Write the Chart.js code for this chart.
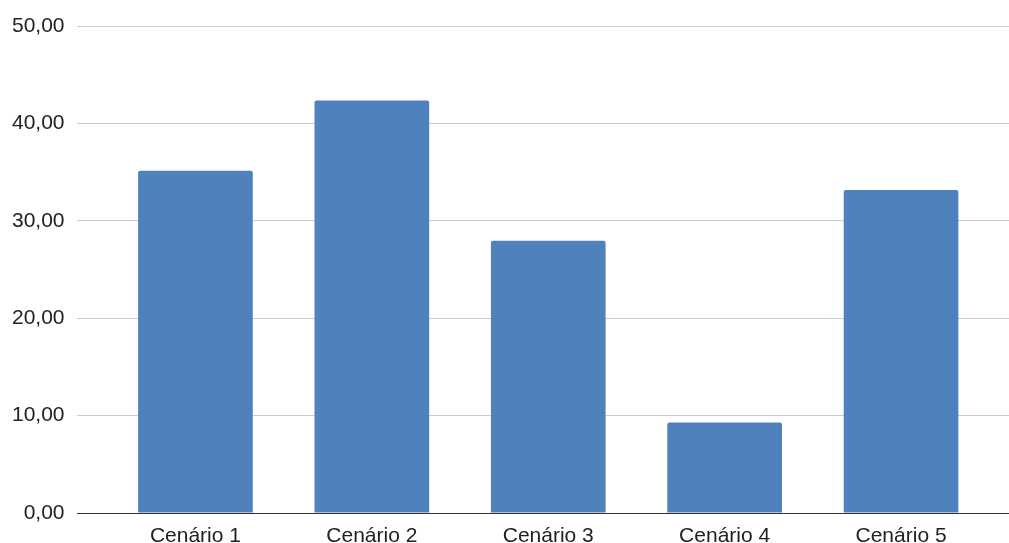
<!DOCTYPE html>
<html>
<head>
<meta charset="utf-8">
<script src="https://cdn.jsdelivr.net/npm/chart.js@4/dist/chart.umd.min.js"></script>
<style>
  html, body { margin: 0; padding: 0; background: #fff; }
  #wrap { width: 1009px; height: 543px; }
</style>
</head>
<body>
<div id="wrap"><canvas id="c"></canvas></div>
<script>
// Cenários e valores
const categories = ['Cenário 1', 'Cenário 2', 'Cenário 3', 'Cenário 4', 'Cenário 5'];
const values = [35.15, 42.35, 27.95, 9.3, 33.17];
const yTicks = [0, 10, 20, 30, 40, 50];
const yTickLabels = ['0,00', '10,00', '20,00', '30,00', '40,00', '50,00'];

const FONT = { family: '"Liberation Sans", Arial, sans-serif', size: 21, lineHeight: 1 };

new Chart(document.getElementById('c'), {
  type: 'bar',
  data: {
    datasets: [{
      data: values.map((v, i) => ({ x: i, y: v })),
      backgroundColor: '#4f81bd',
      borderWidth: 0,
      borderRadius: { topLeft: 2, topRight: 2, bottomLeft: 0, bottomRight: 0 },
      borderSkipped: 'bottom',
      barPercentage: 0.65,
      categoryPercentage: 1
    }]
  },
  options: {
    responsive: true,
    maintainAspectRatio: false,
    animation: false,
    layout: { padding: { left: 0, right: 0, top: 26, bottom: -17 } },
    plugins: { legend: { display: false }, tooltip: { enabled: false } },
    scales: {
      x: {
        type: 'linear',
        offset: false,
        min: -0.674,
        max: 4.612,
        afterBuildTicks: (axis) => { axis.ticks = categories.map((_, i) => ({ value: i })); },
        ticks: {
          autoSkip: false,
          maxRotation: 0,
          padding: 13,
          color: '#222',
          font: FONT,
          callback: (v) => categories[v]
        },
        grid: { display: false, drawTicks: false },
        border: { display: false }
      },
      y: {
        min: 0,
        max: 50,
        afterBuildTicks: (axis) => { axis.ticks = yTicks.map(v => ({ value: v })); },
        ticks: {
          padding: 12,
          color: '#222',
          font: FONT,
          callback: (v) => yTickLabels[yTicks.indexOf(v)]
        },
        grid: {
          drawTicks: false,
          color: (ctx) => ctx.tick && ctx.tick.value === 0 ? '#333333' : '#cccccc',
          lineWidth: 1
        },
        border: { display: false }
      }
    }
  }
});
</script>
</body>
</html>
